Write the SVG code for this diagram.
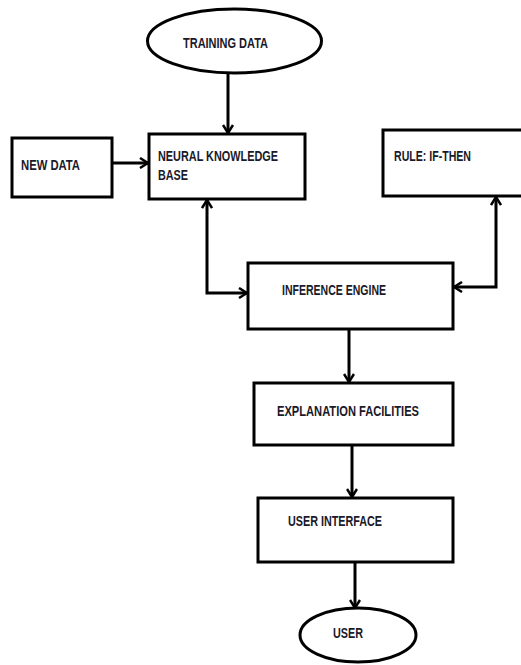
<svg xmlns="http://www.w3.org/2000/svg" width="521" height="665" viewBox="0 0 521 665">
<style>
.box{fill:#fff;stroke:#000;stroke-width:3}
.el{fill:#fff;stroke:#000;stroke-width:3}
.t{font-family:"Liberation Sans Narrow","Liberation Sans",Arial,sans-serif;font-size:15px;font-weight:bold;fill:#1a1a2a}
.c{fill:none;stroke:#000;stroke-width:3}
</style>
<defs>
<marker id="ah" viewBox="0 0 10 12" refX="9" refY="6" markerWidth="10" markerHeight="12" markerUnits="userSpaceOnUse" orient="auto-start-reverse">
<path d="M1,1 L9,6 L1,11" fill="none" stroke="#000" stroke-width="2.5"/>
</marker>
</defs>
<rect width="521" height="665" fill="#fff"/>
<g id="connectors">
<path class="c" d="M228,73 V133" marker-end="url(#ah)"/>
<path class="c" d="M112,163 H148" marker-end="url(#ah)"/>
<path class="c" d="M207,200 V293 H247" marker-start="url(#ah)" marker-end="url(#ah)"/>
<path class="c" d="M496,197 V287 H454" marker-start="url(#ah)" marker-end="url(#ah)"/>
<path class="c" d="M349,329 V382" marker-end="url(#ah)"/>
<path class="c" d="M352,445 V497" marker-end="url(#ah)"/>
<path class="c" d="M355,562 V608" marker-end="url(#ah)"/>
</g>
<g id="training">
<ellipse class="el" cx="234.5" cy="41" rx="87" ry="32"/>
<text class="t" x="183" y="48" textLength="85" lengthAdjust="spacingAndGlyphs">TRAINING DATA</text>
</g>
<g id="newdata">
<rect class="box" x="12" y="138" width="100" height="59"/>
<text class="t" x="21" y="170" textLength="59" lengthAdjust="spacingAndGlyphs">NEW DATA</text>
</g>
<g id="nkb">
<rect class="box" x="149" y="134" width="156" height="65"/>
<text class="t" x="158" y="161" textLength="120" lengthAdjust="spacingAndGlyphs">NEURAL KNOWLEDGE</text>
<text class="t" x="158" y="180" textLength="30" lengthAdjust="spacingAndGlyphs">BASE</text>
</g>
<g id="rule">
<rect class="box" x="383" y="130" width="150" height="66"/>
<text class="t" x="394" y="161" textLength="77" lengthAdjust="spacingAndGlyphs">RULE: IF-THEN</text>
</g>
<g id="inference">
<rect class="box" x="248" y="263" width="205" height="66"/>
<text class="t" x="282" y="295" textLength="104" lengthAdjust="spacingAndGlyphs">INFERENCE ENGINE</text>
</g>
<g id="explanation">
<rect class="box" x="254" y="383" width="199" height="62"/>
<text class="t" x="277" y="416" textLength="142" lengthAdjust="spacingAndGlyphs">EXPLANATION FACILITIES</text>
</g>
<g id="ui">
<rect class="box" x="258" y="498" width="195" height="64"/>
<text class="t" x="288" y="526" textLength="94" lengthAdjust="spacingAndGlyphs">USER INTERFACE</text>
</g>
<g id="user">
<ellipse class="el" cx="358" cy="635" rx="58" ry="27"/>
<text class="t" x="333" y="638" textLength="30" lengthAdjust="spacingAndGlyphs">USER</text>
</g>
</svg>
